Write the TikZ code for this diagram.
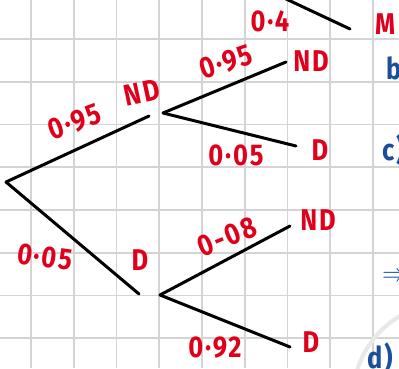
\documentclass[tikz,border=0pt]{standalone}
\usepackage{fontspec}
\newfontfamily\handfont[FakeStretch=0.85, LetterSpace=6]{Fira Sans}
\definecolor{inkred}{HTML}{E0001B}
\definecolor{inkblue}{HTML}{1C4E9C}
\definecolor{gridgray}{HTML}{D4D4D4}
\begin{document}
\begin{tikzpicture}[x=1pt, y=-1pt, font=\handfont\fontsize{30}{32}\selectfont]
    % Styles
    \tikzstyle{branch}=[line width=3pt, black, line cap=round]
    \tikzstyle{prob}=[inkred, inner sep=0pt, font=\handfont\fontsize{30}{32}\selectfont\bfseries]
    \tikzstyle{note}=[inkblue, inner sep=0pt, anchor=west, font=\handfont\fontsize{30}{32}\selectfont\bfseries]

    \useasboundingbox (0,0) rectangle (399,368);
    \clip (0,0) rectangle (399,368);
    \fill[white] (0,0) rectangle (399,368);

    % --- Grid paper ---
    \foreach \i in {0,...,8} {
        \draw[gridgray, line width=1.6pt] (31+42.75*\i, 0) -- (31+42.75*\i, 368);
    }
    \foreach \j in {0,...,7} {
        \draw[gridgray, line width=1.6pt] (0, 39+42.75*\j) -- (399, 39+42.75*\j);
    }
    \draw[gray!18, line width=4pt] (448,398) circle (95);

    % --- Level 0: start ---
    \coordinate (root) at (6,182);

    % --- Level 1 ---
    \coordinate (nd_in) at (149,116);
    \coordinate (nd_out) at (163,113);
    \coordinate (d_in) at (139,294);
    \coordinate (d_out) at (160,295);

    \draw[branch] (root) -- (nd_in);
    \draw[branch] (root) -- (d_in);

    % --- Level 2: leaves ---
    \coordinate (l_1) at (286,62);
    \coordinate (l_2) at (296,146);
    \coordinate (l_3) at (290,226);
    \coordinate (l_4) at (290,347);

    \draw[branch] (nd_out) -- (l_1);
    \draw[branch] (nd_out) -- (l_2);
    \draw[branch] (d_out) -- (l_3);
    \draw[branch] (d_out) -- (l_4);

    % Branch above the picture (cut off)
    \coordinate (top_a) at (284,-2);
    \coordinate (top_b) at (350,29);
    \draw[branch] (top_a) -- (top_b);

    % --- Probabilities and outcomes ---
    \node[prob, rotate=20] (p_nd) at (75,122) {0·95};
    \node[prob, rotate=12] (t_nd) at (142,93) {ND};
    \node[prob, rotate=-8] (p_d) at (45,257) {0·05};
    \node[prob] (t_d) at (140,260) {D};

    \node[prob, rotate=18] (p_ndnd) at (226,62) {0·95};
    \node[prob] (t_ndnd) at (311,61) {ND};
    \node[prob] (p_ndd) at (236,155) {0·05};
    \node[prob] (t_ndd) at (320,150) {D};

    \node[prob, rotate=22] (p_dnd) at (227,237) {0-08};
    \node[prob] (t_dnd) at (318,220) {ND};
    \node[prob] (p_dd) at (215,348) {0·92};
    \node[prob] (t_dd) at (311,342) {D};

    \node[prob] (p_top) at (270,21) {0·4};
    \node[prob, anchor=west] (t_top) at (375,24) {M};

    % --- Notes at the margin (cut off) ---
    \node[note] (n_b) at (386,68) {b};
    \node[note] (n_c) at (382,150) {c)};
    \node[note, font=\fontsize{30}{32}\selectfont] (n_e) at (382,277) {$\Rightarrow$};
    \node[note] (n_d) at (367,358) {d)};
\end{tikzpicture}
\end{document}
